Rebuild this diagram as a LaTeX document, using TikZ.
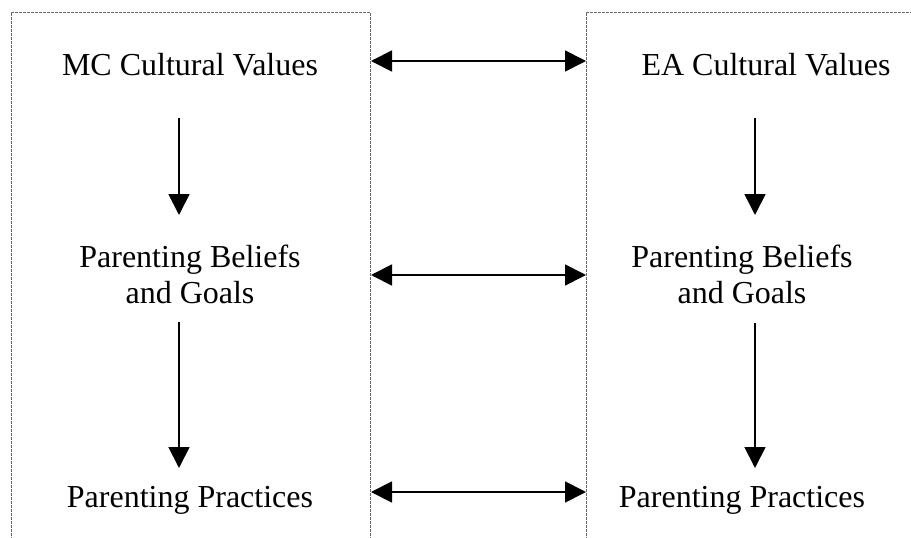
\documentclass[tikz,border=0pt]{standalone}
\usepackage{fontspec}
\setmainfont{Liberation Serif}
\usetikzlibrary{arrows.meta}
\begin{document}
\begin{tikzpicture}[x=1pt,y=-1pt,
  panel/.style={draw=black!60, line width=0.9pt, dash pattern=on 2.6pt off 1.4pt},
  label/.style={inner sep=0pt, font=\fontsize{32}{36}\selectfont, align=center},
  head/.style={Triangle[length=21pt,width=21pt]},
  link/.style={line width=1.8pt, -{Triangle[length=21pt,width=21pt]}},
  twoway/.style={line width=1.8pt, {Triangle[length=21pt,width=21pt]}-{Triangle[length=21pt,width=21pt]}}]
\useasboundingbox (0,0) rectangle (911,538);
\begin{scope}
  \clip (0,0) rectangle (911,538);
  % open-bottomed dotted panels
  \draw[panel] (11,560) -- (11,12) -- (370,12) -- (370,560);
  \draw[panel] (586,560) -- (586,12) -- (940,12);
\end{scope}

% labels
\node[label, anchor=base] (mc)  at (190,75)  {MC Cultural Values};
\node[label, anchor=base] (ea)  at (766,75)  {EA Cultural Values};
\node[label] (mcb) at (190,274.5) {Parenting Beliefs\\and Goals};
\node[label] (eab) at (742,274.5) {Parenting Beliefs\\and Goals};
\node[label, anchor=base] (mcp) at (190,507) {Parenting Practices};
\node[label, anchor=base] (eap) at (742,507) {Parenting Practices};

% arrow end points
\coordinate (l1) at (371,61);  \coordinate (r1) at (586,61);
\coordinate (l2) at (371,275); \coordinate (r2) at (586,275);
\coordinate (l3) at (371,492); \coordinate (r3) at (586,492);
\coordinate (a1) at (179,118); \coordinate (b1) at (179,215);
\coordinate (a2) at (179,322); \coordinate (b2) at (179,468);
\coordinate (c1) at (755,118); \coordinate (d1) at (755,215);
\coordinate (c2) at (755,323); \coordinate (d2) at (755,468);

% links between the two cultures
\draw[twoway] (l1) -- (r1);
\draw[twoway] (l2) -- (r2);
\draw[twoway] (l3) -- (r3);

% values -> beliefs -> practices
\draw[link] (a1) -- (b1);
\draw[link] (a2) -- (b2);
\draw[link] (c1) -- (d1);
\draw[link] (c2) -- (d2);
\end{tikzpicture}
\end{document}
